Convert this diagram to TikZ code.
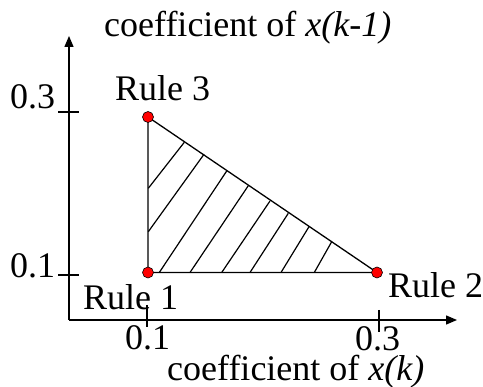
\documentclass[tikz,border=0pt]{standalone}
\usepackage{fontspec}
\setmainfont{Liberation Serif}
\usetikzlibrary{arrows.meta}
\begin{document}
\begin{tikzpicture}[x=1pt,y=-1pt,
  lbl/.style={anchor=base west,inner sep=0pt,font=\fontsize{36}{40}\selectfont},
  dot/.style={circle,fill=red,draw=black,line width=0.6pt,inner sep=0pt,minimum size=11pt},
  axis/.style={line width=1.4pt,-{Triangle[length=11pt,width=9pt]}},
  tick/.style={line width=1.2pt},
  edge/.style={line width=1.3pt},
  hatch/.style={line width=1.2pt}]
\useasboundingbox (0,0) rectangle (483,387);
% axes
\coordinate (o) at (69,320);
\coordinate (ytop) at (69,36);
\coordinate (xend) at (457,320);
\draw[axis] (o) -- (ytop);
\draw[axis] (o) -- (xend);
% ticks
\coordinate (ty3a) at (58,112); \coordinate (ty3b) at (79,112);
\coordinate (ty1a) at (58,275); \coordinate (ty1b) at (79,275);
\coordinate (tx1a) at (147,305); \coordinate (tx1b) at (147,327);
\coordinate (tx3a) at (379,310); \coordinate (tx3b) at (379,332);
\draw[tick] (ty3a) -- (ty3b);
\draw[tick] (ty1a) -- (ty1b);
\draw[tick] (tx1a) -- (tx1b);
\draw[tick] (tx3a) -- (tx3b);
% triangle
\coordinate (p3) at (148,117);
\coordinate (p1) at (148,272.5);
\coordinate (p2) at (377,272.5);
\draw[edge] (p1) -- (p3) -- (p2) -- cycle;
% hatching
\foreach \ax/\ay/\bx/\by in {148.3/188.3/184.3/142.3, 148.3/231.7/204/154.3,
  159.3/272.5/226.7/171, 190/272.5/248.3/185.7, 221.7/272.5/270/201,
  250/272.5/288.3/213.3, 281/272.5/309/226.7, 314.3/272.5/331.7/241.7}
  \draw[hatch] (\ax,\ay) -- (\bx,\by);
% dots
\node[dot] (r3) at (p3) {};
\node[dot] (r1) at (p1) {};
\node[dot] (r2) at (p2) {};
% labels
\node[lbl] (ylab) at (104,37) {coefficient of \textit{x(k-1)}};
\node[lbl] (xlab) at (167,381) {coefficient of \textit{x(k)}};
\node[lbl] (lr3) at (115,101) {Rule 3};
\node[lbl] (lr1) at (83,310) {Rule 1};
\node[lbl] (lr2) at (388,298) {Rule 2};
\node[lbl] (y3) at (10,109) {0.3};
\node[lbl] (y1) at (10,278) {0.1};
\node[lbl] (x1) at (125,350) {0.1};
\node[lbl] (x3) at (355,351) {0.3};
\end{tikzpicture}
\end{document}
